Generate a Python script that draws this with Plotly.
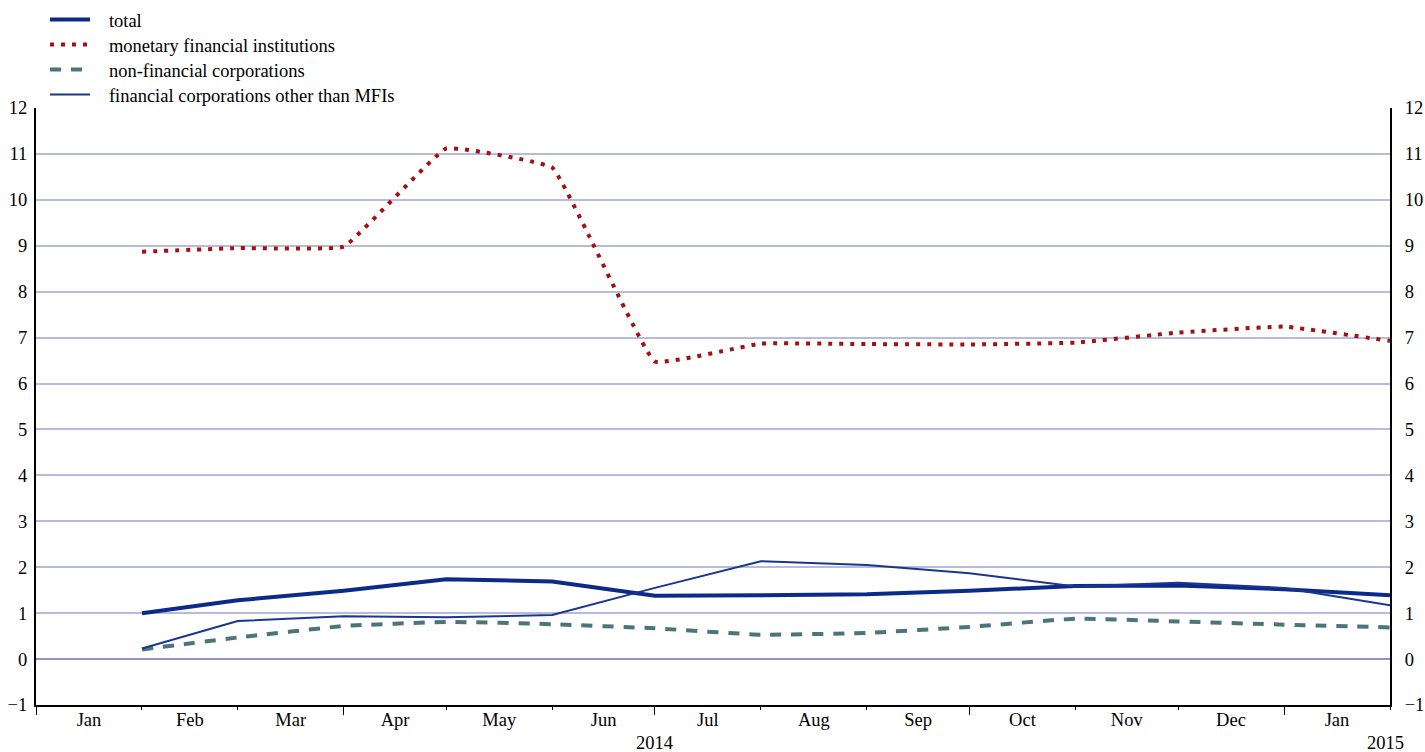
import pandas as pd
import plotly.graph_objects as go

months = ["Jan", "Feb", "Mar", "Apr", "May", "Jun", "Jul", "Aug", "Sep", "Oct", "Nov", "Dec", "Jan"]
month_end = ["2014-02-01", "2014-03-01", "2014-04-01", "2014-05-01", "2014-06-01", "2014-07-01",
             "2014-08-01", "2014-09-01", "2014-10-01", "2014-11-01", "2014-12-01", "2015-01-01",
             "2015-02-01"]

total = [1.00, 1.28, 1.49, 1.74, 1.69, 1.38, 1.39, 1.41, 1.49, 1.59, 1.60, 1.52, 1.39]
mfi = [8.87, 8.95, 8.98, 11.12, 10.70, 6.48, 6.87, 6.86, 6.85, 6.89, 7.11, 7.24, 6.93]
nfc = [0.21, 0.47, 0.72, 0.81, 0.76, 0.67, 0.53, 0.57, 0.70, 0.88, 0.82, 0.75, 0.69]
ofi = [0.23, 0.83, 0.93, 0.91, 0.96, 1.55, 2.13, 2.05, 1.87, 1.58, 1.66, 1.55, 1.17]

series_names = ["total", "monetary financial institutions", "non-financial corporations",
                "financial corporations other than MFIs"]

y_ticks = list(range(-1, 13))

FONT = "Liberation Serif"
FS = 18.5
PAD = "\u00a0\u00a0\u00a0"
W, H = 1425, 752
fig = go.Figure()

fig.add_trace(go.Scatter(x=month_end, y=total, name=PAD + series_names[0], mode="lines",
                         line=dict(color="#0c2a8a", width=4), legend="legend"))
fig.add_trace(go.Scatter(x=month_end, y=mfi, name=PAD + series_names[1], mode="lines",
                         line=dict(color="#a11212", width=4, dash="4px,7px", shape="spline", smoothing=0.25),
                         legend="legend2"))
fig.add_trace(go.Scatter(x=month_end, y=nfc, name=PAD + series_names[2], mode="lines",
                         line=dict(color="#4b757a", width=4, dash="11px,10px", shape="spline", smoothing=0.3),
                         legend="legend3"))
fig.add_trace(go.Scatter(x=month_end, y=ofi, name=PAD + series_names[3], mode="lines",
                         line=dict(color="#1a3592", width=2), xaxis="x2", yaxis="y2", legend="legend4"))

xr = ["2014-01-01", "2015-02-01"]
yr = [-1, 12]


def leg(center_y):
    return dict(x=45 / W, y=1 - center_y / H, xref="container", yref="container",
                xanchor="left", yanchor="middle", bgcolor="rgba(0,0,0,0)",
                font=dict(size=FS, family=FONT), itemwidth=40, tracegroupgap=0)


fig.update_layout(
    width=W, height=H,
    margin=dict(l=36, r=35, t=108, b=47, autoexpand=False),
    paper_bgcolor="white", plot_bgcolor="white",
    font=dict(family=FONT, size=FS, color="black"),
    showlegend=True,
    legend=leg(20), legend2=leg(45), legend3=leg(70), legend4=leg(95),
    xaxis=dict(type="date", range=xr, dtick="M1", tick0="2014-01-01", tickformat="%b",
               ticklabelmode="period", ticks="outside", ticklen=3, tickcolor="black", tickwidth=1,
               showline=True, linecolor="black", linewidth=2, showgrid=False, zeroline=False,
               ticklabelstandoff=-6, fixedrange=True),
    xaxis2=dict(type="date", range=xr, overlaying="x", side="bottom", dtick="M3", tick0="2014-01-01",
                ticks="outside", ticklen=9, tickcolor="black", tickwidth=1, showticklabels=False,
                showline=False, showgrid=False, zeroline=False),
    yaxis=dict(range=yr, tickvals=y_ticks, ticks="", showline=True, linecolor="black", linewidth=2,
               showgrid=True, gridcolor="#b8bbdd", gridwidth=1.5, zeroline=True, zerolinecolor="#8f93c6",
               zerolinewidth=1.5, ticklabelstandoff=3),
    yaxis2=dict(range=yr, tickvals=y_ticks, overlaying="y", side="right", ticks="", showline=True,
                linecolor="black", linewidth=2, showgrid=False, zeroline=False, ticklabelstandoff=9),
    annotations=[
        dict(text="2014", x="2014-07-01", y=-0.043, xref="x", yref="paper", showarrow=False,
             yanchor="top", font=dict(size=FS, family=FONT)),
        dict(text="2015", x=0.9965, y=-0.043, xref="paper", yref="paper", showarrow=False,
             xanchor="center", yanchor="top", font=dict(size=FS, family=FONT)),
    ],
)

# remove the browser's default 8px body margin so the figure fills the window exactly
fig.write_html("out.html", config={"displayModeBar": False},
               post_script="document.body.style.margin='0';document.body.style.padding='0';")
